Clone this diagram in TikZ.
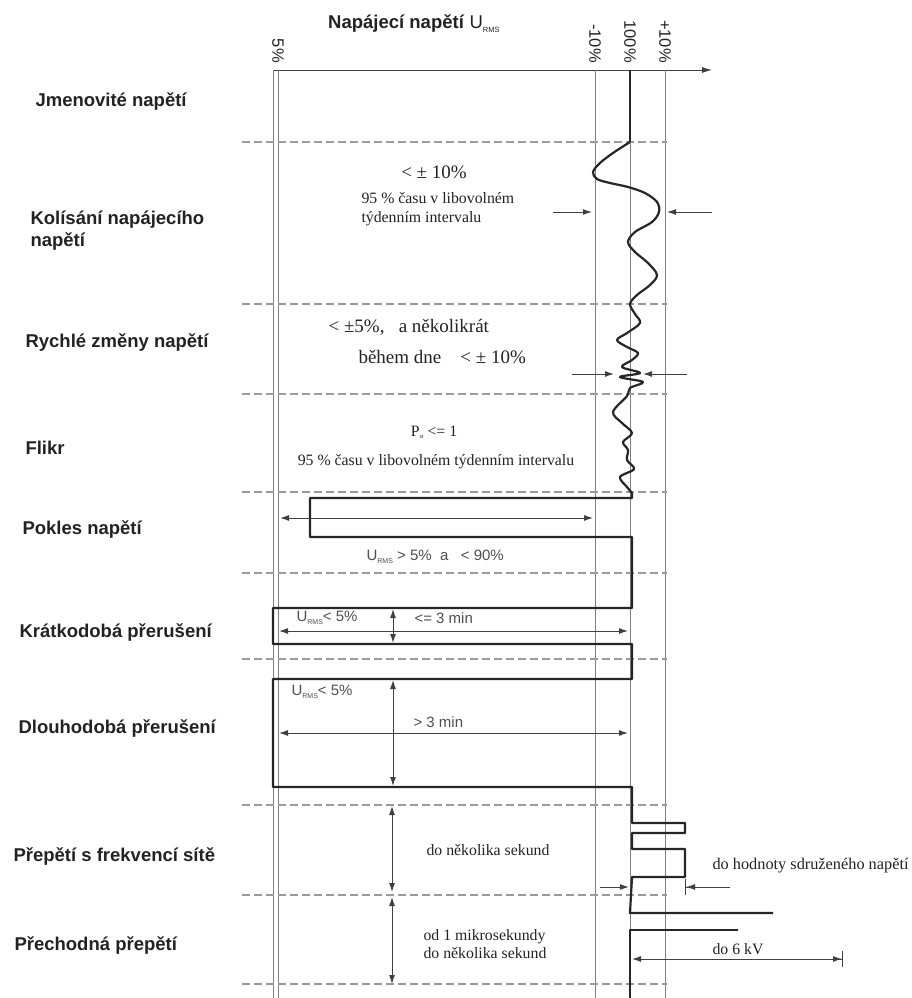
\documentclass[tikz,border=0pt]{standalone}
\usepackage{fontspec}
\setmainfont{Liberation Serif}
\setsansfont{Liberation Sans}
\usetikzlibrary{arrows.meta}

\definecolor{textdark}{HTML}{222222}
\definecolor{linegray}{HTML}{808080}
\definecolor{dashgray}{HTML}{9A9A9A}
\definecolor{arrowcol}{HTML}{404040}
\definecolor{signalcol}{HTML}{262626}

\newcommand{\urms}{U\raisebox{-2.5pt}{\fontsize{7}{7}\selectfont RMS}}

\begin{document}
\begin{tikzpicture}[x=1pt, y=-1pt,
    rowlabel/.style={anchor=base west, font=\sffamily\bfseries\fontsize{18.5}{21.5}\selectfont, text=textdark},
    scalelabel/.style={rotate=-90, anchor=east, inner sep=0pt, font=\sffamily\fontsize{16.5}{18}\selectfont, text=textdark},
    note/.style={font=\fontsize{15.8}{18.5}\selectfont, text=textdark},
    bignote/.style={font=\fontsize{19}{22}\selectfont, text=textdark},
    sansnote/.style={font=\sffamily\fontsize{15}{18}\selectfont, text=textdark!80},
    guide/.style={draw=linegray, line width=0.9pt},
    rowsep/.style={draw=dashgray, line width=1.3pt, dash pattern=on 8pt off 4pt},
    signal/.style={draw=signalcol, line width=2.2pt, line join=round},
    dim/.style={draw=arrowcol, line width=1pt, {Latex[length=9pt,width=6pt]}-{Latex[length=9pt,width=6pt]}},
    pointer/.style={draw=arrowcol, line width=1pt, -{Latex[length=9pt,width=6pt]}}]
    \useasboundingbox (0,0) rectangle (911,998);

    % title and scale
    \node[anchor=base west, inner sep=0pt, text=textdark] (title) at (328,29)
        {\sffamily\fontsize{18.5}{21}\selectfont\textbf{Napájecí napětí} U\raisebox{-4pt}{\fontsize{7.5}{8}\selectfont RMS}};
    \node[scalelabel] (s5) at (278,63) {5\%};
    \node[scalelabel] (sminus) at (595,63) {-10\%};
    \node[scalelabel] (s100) at (630,63) {100\%};
    \node[scalelabel] (splus) at (665,63) {+10\%};

    % grid
    \draw[draw=arrowcol, line width=0.9pt, -{Latex[length=10pt,width=6pt]}] (273,70) -- (712,70);
    \foreach \x in {273,278,595,665}
        \draw[guide] (\x,70) -- (\x,998);
    \draw[guide] (630,142) -- (630,998);
    \foreach \y in {142,304,394,492,573,659,805,895,984}
        \draw[rowsep] (242,\y) -- (667,\y);

    % row labels
    \node[rowlabel] (nominal) at (32,106) {Jmenovité napětí};
    \node[rowlabel, align=left] (variation) at (27,246) {Kolísání napájecího\\napětí};
    \node[rowlabel] (rapid) at (22,347) {Rychlé změny napětí};
    \node[rowlabel] (flicker) at (22,454) {Flikr};
    \node[rowlabel] (dip) at (19,534) {Pokles napětí};
    \node[rowlabel] (shortint) at (16,637) {Krátkodobá přerušení};
    \node[rowlabel] (longint) at (15,733) {Dlouhodobá přerušení};
    \node[rowlabel] (overvolt) at (10,861) {Přepětí s frekvencí sítě};
    \node[rowlabel] (transient) at (11,950) {Přechodná přepětí};

    % voltage curve
    \draw[signal] (630,70) -- (630,142);
    \draw[signal] plot[smooth, tension=0.55] coordinates {(630,142) (613,153) (600,163) (593,172) (597,179)
        (610,183) (628,187) (645,193) (657,202) (659,212) (652,222) (635,232) (628,242) (635,252) (648,263)
        (657,275) (650,285) (637,295) (630,304) (635,314) (640,323) (627,333) (617,340) (627,347) (638,353)
        (632,360) (622,367) (640,373) (620,377) (643,382) (630,388) (627,396) (613,412) (622,423) (632,433)
        (623,442) (628,450) (627,460) (634,469) (620,477) (627,487) (632,493)};
    \draw[signal] (632,493) -- (632,498) -- (310,498) -- (310,537) -- (632,537) -- (632,608)
        -- (273,608) -- (273,644) -- (632,644) -- (632,679) -- (273,679) -- (273,787) -- (632,787)
        -- (632,823) -- (685,823) -- (685,833) -- (632,833) -- (632,849) -- (685,849) -- (685,877)
        -- (632,877) -- (630,913) -- (773,913);
    \draw[signal] (738,930) -- (630,930) -- (630,998);

    % Kolisani
    \node[bignote] (var1) at (434,172) {< ± 10\%};
    \node[note, anchor=west, align=left] (var2) at (358,209) {95 \% času v libovolném\\týdenním intervalu};
    \draw[pointer] (553,212) -- (592,212);
    \draw[pointer] (712,212) -- (667,212);

    % Rychle zmeny
    \node[bignote, anchor=west] (rap1) at (325,327) {<\ ±5\%,\ \ \ a několikrát};
    \node[bignote, anchor=west] (rap2) at (355,357) {během dne\ \ \ \ < ± 10\%};
    \draw[pointer] (572,374) -- (614,374);
    \draw[pointer] (687,374) -- (643,374);

    % Flikr
    \node[note] (pst) at (434,432) {P\raisebox{-2pt}{\fontsize{6}{6}\selectfont st} <= 1};
    \node[note] (flk) at (436,462) {95 \% času v libovolném týdenním intervalu};

    % Pokles
    \draw[dim] (280,518) -- (593,518);
    \node[sansnote, anchor=west] (diptext) at (363,557) {\urms{} > 5\%\ \ a\ \ \ < 90\%};

    % Kratkodoba preruseni
    \node[sansnote, anchor=west] (short1) at (293,618) {\urms{}< 5\%};
    \node[sansnote, anchor=west] (short2) at (411,618) {<= 3 min};
    \draw[dim] (393,609) -- (393,643);
    \draw[dim] (279,631) -- (628,631);

    % Dlouhodoba preruseni
    \node[sansnote, anchor=west] (long1) at (288,692) {\urms{}< 5\%};
    \node[sansnote, anchor=west] (long2) at (410,722) {> 3 min};
    \draw[dim] (393,680) -- (393,786);
    \draw[dim] (279,733) -- (628,733);

    % Prepeti
    \draw[dim] (392,806) -- (392,892);
    \draw[dim] (392,897) -- (392,984);
    \node[note] (sec) at (488,850) {do několika sekund};
    \node[note, anchor=west, align=left] (micro) at (420,944) {od 1 mikrosekundy\\do několika sekund};
    \draw[pointer] (600,887) -- (629,887);
    \draw[draw=arrowcol, line width=1pt, -{Latex[length=9pt,width=6pt] Bar[width=16pt]}] (730,887) -- (685,887);
    \node[font=\fontsize{16.3}{19}\selectfont, text=textdark, anchor=west] (phase) at (709,866) {do hodnoty sdruženého napětí};
    \node[note, anchor=west] (kv) at (709,949) {do 6 kV};
    \draw[draw=arrowcol, line width=1pt, {Latex[length=9pt,width=6pt]}-{Latex[length=9pt,width=6pt] Bar[width=16pt]}] (632,959) -- (843,959);
\end{tikzpicture}
\end{document}
